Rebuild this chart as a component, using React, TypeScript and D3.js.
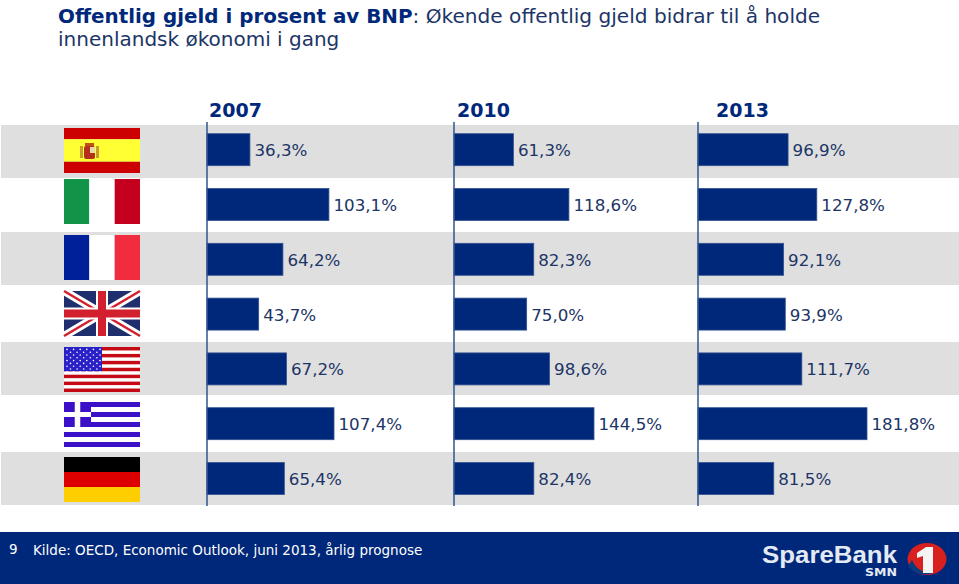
import * as d3 from "d3";

const years = ["2007", "2010", "2013"];
const countries = ["es", "it", "fr", "uk", "us", "gr", "de"];
const debt2007 = [36.3, 103.1, 64.2, 43.7, 67.2, 107.4, 65.4];
const debt2010 = [61.3, 118.6, 82.3, 75.0, 98.6, 144.5, 82.4];
const debt2013 = [96.9, 127.8, 92.1, 93.9, 111.7, 181.8, 81.5];
const series = [debt2007, debt2010, debt2013];

const navy = "#00287a";
const textBlue = "#1c3566";
const grey = "#dfdfdf";
const font = "'DejaVu Sans', Verdana, sans-serif";

// each panel in the source has its own bar scale
const panels = [
  { x0: 207, yearX: 209, scale: d3.scaleLinear().domain([0, 107.4]).range([0, 127]) },
  { x0: 454, yearX: 457, scale: d3.scaleLinear().domain([0, 144.5]).range([0, 140]) },
  { x0: 698, yearX: 716, scale: d3.scaleLinear().domain([0, 181.8]).range([0, 169]) },
];

const rowY = d3.scaleBand<string>().domain(countries).range([122.3, 505.9]).paddingInner(0);
const flagW = 76;
const flagH = 45;
// flags and grey bands are not evenly spaced in the source slide
const flagTop: Record<string, number> = { es: 128, it: 179, fr: 235, uk: 291, us: 347, gr: 402, de: 457 };
const greyTop = [125, 232, 342, 452];

function fmt(v: number) {
  return v.toFixed(1).replace(".", ",") + "%";
}

function Stripes({ colors, vertical, weights }: { colors: string[]; vertical?: boolean; weights?: number[] }) {
  const w = weights ?? colors.map(() => 1);
  const total = d3.sum(w);
  let acc = 0;
  return (
    <>
      {colors.map((c, i) => {
        const start = acc / total;
        acc += w[i];
        const size = w[i] / total;
        return vertical ? (
          <rect key={i} x={start * flagW} y={0} width={size * flagW} height={flagH} fill={c} />
        ) : (
          <rect key={i} x={0} y={start * flagH} width={flagW} height={size * flagH} fill={c} />
        );
      })}
    </>
  );
}

function Spain() {
  return (
    <>
      <Stripes colors={["#cc0000", "#ffff33", "#cc0000"]} weights={[3, 6, 3]} />
      <rect x={16} y={18} width={3} height={12} fill="#c9a030" />
      <rect x={32} y={18} width={3} height={12} fill="#c9a030" />
      <rect x={20} y={18} width={11} height={13} rx={2} fill="#b5301c" />
      <rect x={26} y={19} width={5} height={6} fill="#e8d8b0" />
      <rect x={21} y={15} width={9} height={3} fill="#c0501c" />
    </>
  );
}

function UK() {
  const d = `M0,0L${flagW},${flagH}M${flagW},0L0,${flagH}`;
  const h = `M${flagW / 2},0V${flagH}M0,${flagH / 2}H${flagW}`;
  return (
    <>
      <rect width={flagW} height={flagH} fill="#1f2f6e" />
      <path d={d} stroke="#fff" strokeWidth={8} />
      <path d={d} stroke="#d3202f" strokeWidth={2.5} />
      <path d={h} stroke="#fff" strokeWidth={12} />
      <path d={h} stroke="#d3202f" strokeWidth={8} />
    </>
  );
}

function USA() {
  const rows = d3.range(13);
  const h = flagH / 13;
  return (
    <>
      <rect width={flagW} height={flagH} fill="#fff" />
      {rows.filter((r) => r % 2 === 0).map((r) => (
        <rect key={r} y={r * h} width={flagW} height={h} fill="#c40a14" />
      ))}
      <rect width={38} height={h * 7} fill="#2a20c8" />
      {d3.range(9).flatMap((r) =>
        d3.range(r % 2 ? 5 : 6).map((c) => (
          <circle key={`${r}-${c}`} cx={(r % 2 ? 6.5 : 3) + c * 6.6} cy={2.4 + r * 2.8} r={0.8} fill="#fff" />
        ))
      )}
    </>
  );
}

function Greece() {
  const h = flagH / 9;
  return (
    <>
      <rect width={flagW} height={flagH} fill="#fff" />
      {d3.range(0, 9, 2).map((r) => (
        <rect key={r} y={r * h} width={flagW} height={h} fill="#3a10c8" />
      ))}
      <rect width={h * 5.4} height={h * 5} fill="#3a10c8" />
      <rect x={h * 2.15} width={h * 1.1} height={h * 5} fill="#fff" />
      <rect y={h * 2} width={h * 5.4} height={h} fill="#fff" />
    </>
  );
}

const flags: Record<string, JSX.Element> = {
  es: <Spain />,
  it: <Stripes vertical colors={["#119447", "#ffffff", "#c5001e"]} />,
  fr: <Stripes vertical colors={["#00209a", "#ffffff", "#f12c3e"]} />,
  uk: <UK />,
  us: <USA />,
  gr: <Greece />,
  de: <Stripes colors={["#000000", "#dd0000", "#ffce00"]} />,
};

export default function App() {
  const band = rowY.bandwidth();
  return (
    <svg
      width={959}
      height={584}
      style={{ position: "absolute", left: 0, top: 0, fontFamily: font, background: "#fff" }}
    >
      <text x={58} y={23} fontSize={20.1} fill={navy}>
        <tspan fontWeight="bold" fontSize={19.9}>Offentlig gjeld i prosent av BNP</tspan>
        <tspan fill={textBlue}>: Økende offentlig gjeld bidrar til å holde</tspan>
      </text>
      <text x={58} y={46} fontSize={20} fill={textBlue}>
        innenlandsk økonomi i gang
      </text>

      {greyTop.map((t) => (
        <rect key={t} x={1} y={t} width={958} height={53} fill={grey} />
      ))}

      {countries.map((c) => (
        <g key={c} transform={`translate(64,${flagTop[c]})`}>
          {flags[c]}
        </g>
      ))}

      {panels.map((p, k) => (
        <g key={years[k]}>
          <text x={p.yearX} y={117} fontSize={19} fontWeight="bold" fill={navy}>
            {years[k]}
          </text>
          {series[k].map((v, i) => {
            const cy = (rowY(countries[i]) ?? 0) + band / 2;
            return (
              <g key={countries[i]}>
                <rect x={p.x0} y={cy - 16} width={p.scale(v)} height={32} fill={navy} stroke="#33528f" strokeWidth={0.8} />
                <text x={p.x0 + p.scale(v) + 4.5} y={cy + 6.5} fontSize={16.7} fill={textBlue}>
                  {fmt(v)}
                </text>
              </g>
            );
          })}
          <line x1={p.x0} x2={p.x0} y1={122} y2={506} stroke="#2f5590" strokeWidth={1.5} />
        </g>
      ))}

      <rect x={0} y={532} width={959} height={52} fill={navy} />
      <text x={9} y={554} fontSize={13.5} fill="#fff">9</text>
      <text x={33} y={555} fontSize={13.5} fill="#fff">
        Kilde: OECD, Economic Outlook, juni 2013, årlig prognose
      </text>
      <text
        x={762}
        y={563}
        fontSize={24}
        fontWeight="bold"
        fontFamily="'Liberation Sans', sans-serif"
        textLength={135}
        lengthAdjust="spacingAndGlyphs"
        fill="#e4eaf3"
      >
        SpareBank
      </text>
      <text
        x={865}
        y={576}
        fontSize={10}
        fontWeight="bold"
        fill="#e4eaf3"
        textLength={32}
        lengthAdjust="spacingAndGlyphs"
      >
        SMN
      </text>
      <ellipse cx={927} cy={559} rx={19.5} ry={16} fill="#d8201e" />
      <path d="M908,566Q918,578 934,573Q918,574 912,560Z" fill="#0a3a80" />
      <path d="M917,553L926,547H933V573H923V556L917,558Z" fill="#f4f4f4" />
    </svg>
  );
}
